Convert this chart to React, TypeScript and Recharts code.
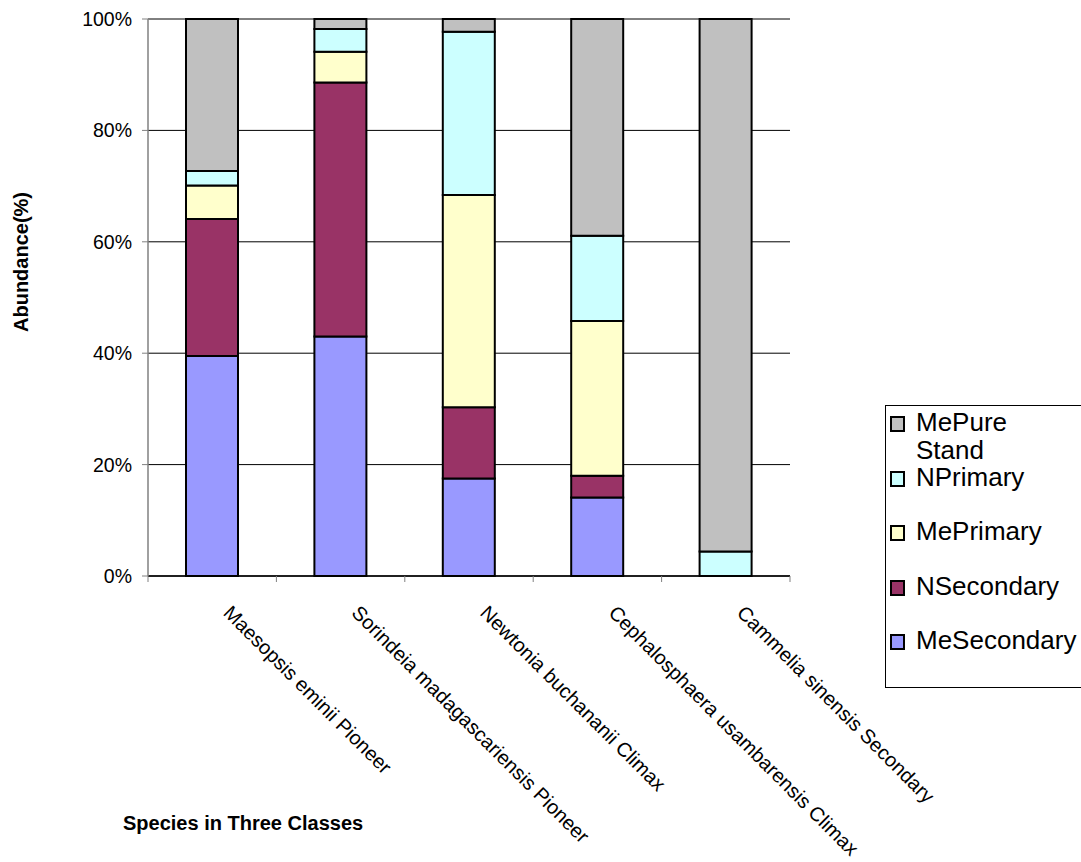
import React from "react";
import { BarChart, Bar, XAxis, YAxis, CartesianGrid, Legend } from "recharts";

// species (x categories)
const categories = [
  "Maesopsis eminii Pioneer",
  "Sorindeia madagascariensis Pioneer",
  "Newtonia buchananii Climax",
  "Cephalosphaera usambarensis Climax",
  "Cammelia sinensis Secondary",
];

// abundance per class, % of each bar
const meSecondary = [39.5, 43.0, 17.5, 14.1, 0];
const nSecondary = [24.6, 45.6, 12.8, 3.9, 0];
const mePrimary = [6.0, 5.5, 38.1, 27.8, 0];
const nPrimary = [2.6, 4.1, 29.3, 15.3, 4.4];
const mePureStand = [27.3, 1.8, 2.3, 38.9, 95.6];

// stack order, bottom to top
const seriesNames = ["MeSecondary", "NSecondary", "MePrimary", "NPrimary", "MePure Stand"];

const yTicks = [0, 0.2, 0.4, 0.6, 0.8, 1];

const data = categories.map((name, i) => ({
  name,
  meSecondary: meSecondary[i],
  nSecondary: nSecondary[i],
  mePrimary: mePrimary[i],
  nPrimary: nPrimary[i],
  mePureStand: mePureStand[i],
}));

const FONT = "'Liberation Sans', Arial, sans-serif";
const W = 1081;
const H = 862;
const PLOT_LEFT = 148;
const PLOT_RIGHT = 790;
const PLOT_TOP = 19;
const PLOT_BOTTOM = 576;
const X_AXIS_H = 30;
const PLOT_W = PLOT_RIGHT - PLOT_LEFT;

const CategoryTick = (props: any) => {
  const { x, y, payload, index } = props;
  const half = PLOT_W / categories.length / 2;
  const tx = x + 10;
  const ty = y + 38;
  return (
    <g>
      <line x1={x - half} y1={y} x2={x - half} y2={y + 6} stroke="#808080" />
      {index === categories.length - 1 && (
        <line x1={x + half} y1={y} x2={x + half} y2={y + 6} stroke="#808080" />
      )}
      <text
        x={tx}
        y={ty}
        transform={`rotate(45, ${tx}, ${ty})`}
        textAnchor="start"
        fontSize={20}
        fontFamily={FONT}
        fill="#000"
      >
        {payload.value}
      </text>
    </g>
  );
};

const renderLegend = (props: any) => {
  // top of the stack first, like the Excel legend
  const items = [...(props.payload || [])].sort(
    (a: any, b: any) => seriesNames.indexOf(b.value) - seriesNames.indexOf(a.value)
  );
  return (
    <div
      style={{
        width: 220,
        height: 283,
        border: "1px solid #000",
        boxSizing: "border-box",
        fontFamily: FONT,
        fontSize: 26,
        color: "#000",
        paddingTop: 1,
        background: "#fff",
      }}
    >
      {items.map((item: any) => (
        <div key={item.value} style={{ display: "flex", alignItems: "flex-start", height: 54.5 }}>
          <span
            style={{
              width: 15,
              height: 16,
              border: "2px solid #000",
              boxSizing: "border-box",
              background: item.color,
              marginLeft: 4,
              marginTop: 9,
              flexShrink: 0,
            }}
          />
          <span style={{ marginLeft: 11, width: 163, lineHeight: "28px", marginTop: 1 }}>{item.value}</span>
        </div>
      ))}
    </div>
  );
};

export default function App() {
  return (
    <div style={{ position: "absolute", left: 0, top: 0, width: W, height: H, overflow: "hidden", background: "#fff" }}>
      <BarChart
        width={W}
        height={H}
        data={data}
        stackOffset="expand"
        margin={{ top: PLOT_TOP, right: W - PLOT_RIGHT, left: 0, bottom: H - PLOT_BOTTOM - X_AXIS_H }}
      >
        <CartesianGrid vertical={false} stroke="#000" strokeWidth={1} />
        <XAxis
          dataKey="name"
          height={X_AXIS_H}
          interval={0}
          tickLine={false}
          tickSize={0}
          tickMargin={0}
          axisLine={{ stroke: "#000", strokeWidth: 1.5 }}
          tick={<CategoryTick />}
        />
        <YAxis
          width={PLOT_LEFT}
          domain={[0, 1]}
          ticks={yTicks}
          interval={0}
          tickFormatter={(v: number) => `${Math.round(v * 100)}%`}
          tickSize={6}
          tickMargin={10}
          tickLine={{ stroke: "#808080" }}
          axisLine={{ stroke: "#808080", strokeWidth: 1.5 }}
          tick={{ fontSize: 19.5, fontFamily: FONT, fill: "#000" }}
        />
        <Legend
          layout="vertical"
          align="center"
          verticalAlign="middle"
          content={renderLegend}
          wrapperStyle={{ left: 885, top: 405, width: 220 }}
        />
        <Bar dataKey="meSecondary" name={seriesNames[0]} stackId="a" fill="#9999FF" stroke="#000" strokeWidth={2} barSize={52} isAnimationActive={false} />
        <Bar dataKey="nSecondary" name={seriesNames[1]} stackId="a" fill="#993366" stroke="#000" strokeWidth={2} barSize={52} isAnimationActive={false} />
        <Bar dataKey="mePrimary" name={seriesNames[2]} stackId="a" fill="#FFFFCC" stroke="#000" strokeWidth={2} barSize={52} isAnimationActive={false} />
        <Bar dataKey="nPrimary" name={seriesNames[3]} stackId="a" fill="#CCFFFF" stroke="#000" strokeWidth={2} barSize={52} isAnimationActive={false} />
        <Bar dataKey="mePureStand" name={seriesNames[4]} stackId="a" fill="#C0C0C0" stroke="#000" strokeWidth={2} barSize={52} isAnimationActive={false} />
      </BarChart>
      <div
        style={{
          position: "absolute",
          left: 21,
          top: 262,
          transform: "translate(-50%, -50%) rotate(-90deg)",
          whiteSpace: "nowrap",
          fontFamily: FONT,
          fontWeight: "bold",
          fontSize: 20,
          color: "#000",
        }}
      >
        Abundance(%)
      </div>
      <div
        style={{
          position: "absolute",
          left: 123,
          top: 813,
          lineHeight: "20px",
          whiteSpace: "nowrap",
          fontFamily: FONT,
          fontWeight: "bold",
          fontSize: 20,
          color: "#000",
        }}
      >
        Species in Three Classes
      </div>
    </div>
  );
}
